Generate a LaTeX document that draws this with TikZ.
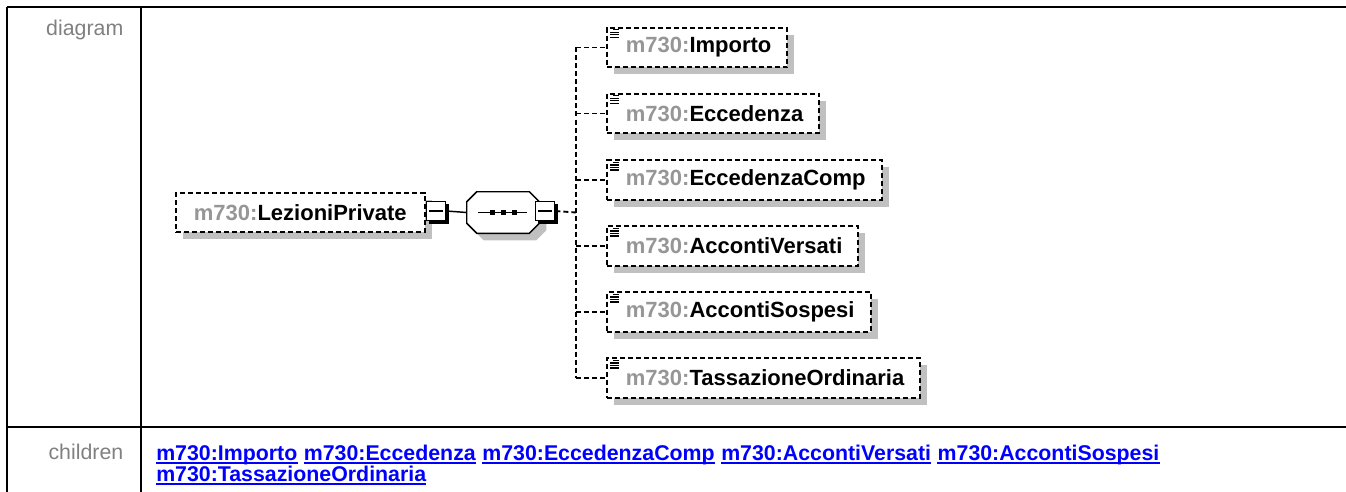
\documentclass[tikz,border=0pt]{standalone}
\usepackage{fontspec}
\setmainfont{Liberation Sans}
\usetikzlibrary{positioning,shadows}

\definecolor{xsgrey}{RGB}{150,150,150}
\definecolor{xsshadow}{RGB}{192,192,192}
\definecolor{xslink}{RGB}{0,0,255}
\definecolor{xslabel}{RGB}{128,128,128}

\tikzset{
  elem/.style={draw, dash pattern=on 3.75pt off 2.25pt, line width=1.4pt, fill=white,
    minimum height=29.5pt, inner ysep=0pt, font=\fontsize{16.5}{20}\selectfont\bfseries,
    drop shadow={shadow xshift=5.25pt, shadow yshift=-5.25pt, fill=xsshadow, opacity=1}},
  childbox/.style={elem, inner xsep=12pt, anchor=west},
  toggle/.style={draw, line width=1.1pt, fill=white, minimum size=14.5pt, inner sep=0pt,
    drop shadow={shadow xshift=2.25pt, shadow yshift=-2.25pt, fill=black, opacity=1},
    path picture={\draw[line width=1.1pt] ([xshift=2.25pt]path picture bounding box.west)
      -- ([xshift=-2.25pt]path picture bounding box.east);}},
  seqbox/.style={inner sep=0pt, minimum width=54pt, minimum height=30.75pt},
  seqline/.style={draw, line width=1.1pt, fill=white,
    drop shadow={shadow xshift=5.25pt, shadow yshift=-5.25pt, fill=xsshadow, opacity=1}},
  bus/.style={dash pattern=on 3.75pt off 2.25pt, line width=1.4pt},
  rowlabel/.style={anchor=base east, text=xslabel, font=\fontsize{16}{19}\selectfont},
  childlink/.style={text=xslink, font=\fontsize{16}{19}\selectfont\bfseries, inner sep=0pt, anchor=base west},
  grid/.style={line width=1.5pt}
}

\begin{document}
\begin{tikzpicture}[x=0.75pt, y=-0.75pt]
  \useasboundingbox (0,0) rectangle (1346,492);

  % table
  \draw[grid] (7,7) -- (1346,7);
  \draw[grid] (7,7) -- (7,492);
  \draw[grid] (141,7) -- (141,492);
  \draw[grid] (7,427) -- (1346,427);
  \node[rowlabel] (lbldiagram) at (128,36) {diagram};
  \node[rowlabel] (lblchildren) at (128,459) {children};

  % element and sequence
  \node[elem, anchor=west, inner xsep=13.5pt] (root) at (175,212.5)
    {{\color{xsgrey}m730:}LezioniPrivate\hspace{6.75pt}};
  \node[seqbox] (seq) at (503,212.5) {};
  \path[seqline] ([xshift=7.5pt]seq.north west) -- ([xshift=-7.5pt]seq.north east)
    -- ([yshift=-7.5pt]seq.north east) -- ([yshift=7.5pt]seq.south east)
    -- ([xshift=-7.5pt]seq.south east) -- ([xshift=7.5pt]seq.south west)
    -- ([yshift=7.5pt]seq.south west) -- ([yshift=-7.5pt]seq.north west) -- cycle;
  \draw[line width=1.1pt] (seq.center) ++(-25,0) -- ++(49,0);
  \foreach \dx in {-13.5,-2.5,8.5}
    \fill (seq.center) ++(\dx,-2.5) rectangle ++(5,5);
  \node[toggle] (toggleL) at (436,211) {};
  \node[toggle] (toggleR) at (545,211) {};
  \draw[line width=1.1pt] (toggleL.east) -- (seq.west);

  % children
  \foreach \name/\ypos [count=\i] in {Importo/47.5, Eccedenza/113.5, EccedenzaComp/180,
      AccontiVersati/246, AccontiSospesi/312, TassazioneOrdinaria/378} {
    \node[childbox] (c\i) at (606,\ypos) {\hspace{2.25pt}{\color{xsgrey}m730:}\name};
    \draw[line width=0.9pt] (c\i.north west) ++(7,3) -- ++(6,0);
    \foreach \dy in {5.5,8,10.5}
      \draw[line width=0.9pt] (c\i.north west) ++(4,\dy) -- ++(9,0);
  }
  \coordinate (bus) at (576,212.5);
  \draw[bus] (toggleR.east) -- (bus);
  \draw[bus] (bus |- c1.west) -- (bus |- c6.west);
  \foreach \i in {1,...,6}
    \draw[bus] (bus |- c\i.west) -- (c\i.west);

  % links
  \node[childlink] (l1) at (156,460) {m730:Importo};
  \node[childlink, right=4.5pt of l1.base east, anchor=base west] (l2) {m730:Eccedenza};
  \node[childlink, right=4.5pt of l2.base east, anchor=base west] (l3) {m730:EccedenzaComp};
  \node[childlink, right=4.5pt of l3.base east, anchor=base west] (l4) {m730:AccontiVersati};
  \node[childlink, right=4.5pt of l4.base east, anchor=base west] (l5) {m730:AccontiSospesi};
  \node[childlink] (l6) at (156,481) {m730:TassazioneOrdinaria};
  \foreach \i in {1,...,6}
    \draw[xslink, line width=1.5pt] ([yshift=-2.6pt]l\i.base west) -- ([yshift=-2.6pt]l\i.base east);
\end{tikzpicture}
\end{document}
